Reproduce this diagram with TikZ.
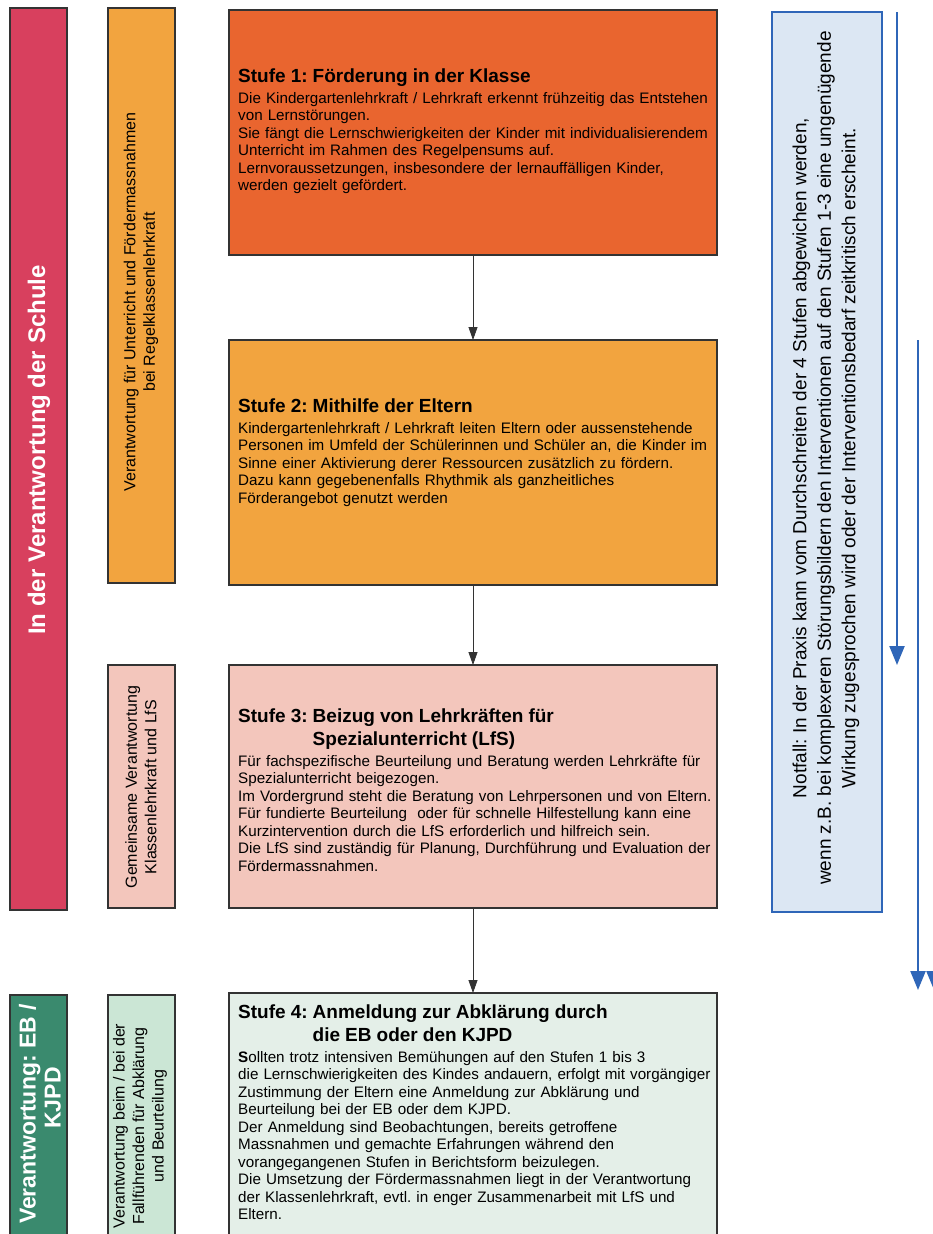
\documentclass[tikz,border=0pt]{standalone}
\usepackage{fontspec}
\setmainfont{Liberation Sans}
\frenchspacing
\usetikzlibrary{arrows.meta}
\definecolor{redbar}{HTML}{D8405E}
\definecolor{sonecol}{HTML}{E9652F}
\definecolor{stwocol}{HTML}{F2A43F}
\definecolor{pinkcol}{HTML}{F3C6BC}
\definecolor{dgreen}{HTML}{3A8A6E}
\definecolor{lgreen}{HTML}{CBE6D5}
\definecolor{sfourcol}{HTML}{E4EFE8}
\definecolor{notfill}{HTML}{DCE7F3}
\definecolor{blueline}{HTML}{2F66B8}
\definecolor{edgecol}{HTML}{333333}
\newcommand{\bodyfont}{\fontsize{15.2}{17.5}\selectfont\frenchspacing\lineskiplimit=-100pt\relax}
\newcommand{\ttl}[1]{{\fontsize{19}{17.5}\selectfont\bfseries #1}}
\tikzset{
  box/.style={draw=edgecol, line width=1.2pt, inner sep=0pt, outer sep=0pt, anchor=north west, rectangle},
  bodytxt/.style={anchor=base west, inner sep=0pt, text width=478pt, align=left, font=\bodyfont},
  sidelab/.style={rotate=90, inner sep=0pt, align=center, font=\fontsize{16}{19.5}\selectfont},
  biglab/.style={rotate=90, inner sep=0pt, align=center, text=white, font=\fontsize{24}{25}\selectfont\bfseries},
  arr/.style={draw=edgecol, line width=0.8pt, -{Triangle[length=13pt,width=9pt]}},
  barr/.style={draw=blueline, line width=2.2pt, -{Triangle[length=19pt,width=15pt]}},
}
\begin{document}
\begin{tikzpicture}[x=1pt,y=-1pt]
\useasboundingbox (0,0) rectangle (933,1234);
\clip (0,0) rectangle (933,1234);
\fill[white] (0,0) rectangle (933,1234);

% left column bars
\node[box, fill=redbar, minimum width=57pt, minimum height=902pt] (rb) at (10,8) {};
\node[box, fill=dgreen, minimum width=57pt, minimum height=300pt] (gb) at (10,995) {};
\node[box, fill=stwocol, minimum width=67pt, minimum height=575pt] (ob) at (108,8) {};
\node[box, fill=pinkcol, minimum width=67pt, minimum height=243pt] (pb) at (108,665) {};
\node[box, fill=lgreen, minimum width=67pt, minimum height=300pt] (lb) at (108,995) {};

\node[biglab] (rbt) at (39,450) {In der Verantwortung der Schule};
\node[biglab, font=\fontsize{23}{25}\selectfont\bfseries] (gbt) at (40,1114) {Verantwortung: EB /\\\hspace*{32pt}KJPD};
\node[sidelab] (obt) at (141,302) {Verantwortung für Unterricht und Fördermassnahmen\\bei Regelklassenlehrkraft};
\node[sidelab] (pbt) at (141,787) {Gemeinsame Verantwortung\\Klassenlehrkraft und LfS};
\node[sidelab] (lbt) at (140,1126) {Verantwortung beim / bei der\\Fallführenden für Abklärung\\und Beurteilung};

% stage boxes
\node[box, fill=sonecol, minimum width=488pt, minimum height=245pt] (s1) at (229,10) {};
\node[box, fill=stwocol, minimum width=488pt, minimum height=245pt] (s2) at (229,340) {};
\node[box, fill=pinkcol, minimum width=488pt, minimum height=243pt] (s3) at (229,665) {};
\node[box, fill=sfourcol, minimum width=488pt, minimum height=300pt] (s4) at (229,993) {};

\draw[arr] (s1.south) -- (s2.north);
\draw[arr] (s2.south) -- (s3.north);
\draw[arr] (s3.south) -- (s4.north);

\node[bodytxt] (t1) at (238,82) {\ttl{Stufe 1: Förderung in der Klasse}\\[3.5pt]
Die Kindergartenlehrkraft / Lehrkraft erkennt frühzeitig das Entstehen\\
von Lernstörungen.\\
Sie fängt die Lernschwierigkeiten der Kinder mit individualisierendem\\
Unterricht im Rahmen des Regelpensums auf.\\
Lernvoraussetzungen, insbesondere der lernauffälligen Kinder,\\
werden gezielt gefördert.};

\node[bodytxt] (t2) at (238,412) {\ttl{Stufe 2: Mithilfe der Eltern}\\[3.5pt]
Kindergartenlehrkraft / Lehrkraft leiten Eltern oder aussenstehende\\
Personen im Umfeld der Schülerinnen und Schüler an, die Kinder im\\
Sinne einer Aktivierung derer Ressourcen zusätzlich zu fördern.\\
Dazu kann gegebenenfalls Rhythmik als ganzheitliches\\
Förderangebot genutzt werden};

\node[bodytxt] (t3) at (238,722) {\ttl{Stufe 3: Beizug von Lehrkräften für}\\[5.5pt]
\ttl{\hphantom{Stufe 3: }Spezialunterricht (LfS)}\\[3.5pt]
Für fachspezifische Beurteilung und Beratung werden Lehrkräfte für\\
Spezialunterricht beigezogen.\\
Im Vordergrund steht die Beratung von Lehrpersonen und von Eltern.\\
Für fundierte Beurteilung \ oder für schnelle Hilfestellung kann eine\\
Kurzintervention durch die LfS erforderlich und hilfreich sein.\\
Die LfS sind zuständig für Planung, Durchführung und Evaluation der\\
Fördermassnahmen.};

\node[bodytxt] (t4) at (238,1018) {\ttl{Stufe 4: Anmeldung zur Abklärung durch}\\[5.5pt]
\ttl{\hphantom{Stufe 4: }die EB oder den KJPD}\\[3.5pt]
\textbf{S}ollten trotz intensiven Bemühungen auf den Stufen 1 bis 3\\
die Lernschwierigkeiten des Kindes andauern, erfolgt mit vorgängiger\\
Zustimmung der Eltern eine Anmeldung zur Abklärung und\\
Beurteilung bei der EB oder dem KJPD.\\
Der Anmeldung sind Beobachtungen, bereits getroffene\\
Massnahmen und gemachte Erfahrungen während den\\
vorangegangenen Stufen in Berichtsform beizulegen.\\
Die Umsetzung der Fördermassnahmen liegt in der Verantwortung\\
der Klassenlehrkraft, evtl. in enger Zusammenarbeit mit LfS und\\
Eltern.};

% Notfall box
\node[box, draw=blueline, fill=notfill, minimum width=110pt, minimum height=900pt] (nf) at (772,12) {};
\node[rotate=90, inner sep=0pt, align=center, font=\fontsize{19}{24.5}\selectfont\frenchspacing] (nft) at (826,458)
 {Notfall: In der Praxis kann vom Durchschreiten der 4 Stufen abgewichen werden,\\
 wenn z.B. bei komplexeren Störungsbildern den Interventionen auf den Stufen 1-3 eine ungenügende\\
 Wirkung zugesprochen wird oder der Interventionsbedarf zeitkritisch erscheint.};

% blue arrows
\coordinate (a1s) at (897,12);
\coordinate (a1e) at (897,665);
\coordinate (a2s) at (918,340);
\coordinate (a2e) at (918,990);
\coordinate (a3s) at (934,340);
\coordinate (a3e) at (934,990);
\draw[barr] (a1s) -- (a1e);
\draw[barr] (a2s) -- (a2e);
\draw[barr] (a3s) -- (a3e);
\end{tikzpicture}
\end{document}
